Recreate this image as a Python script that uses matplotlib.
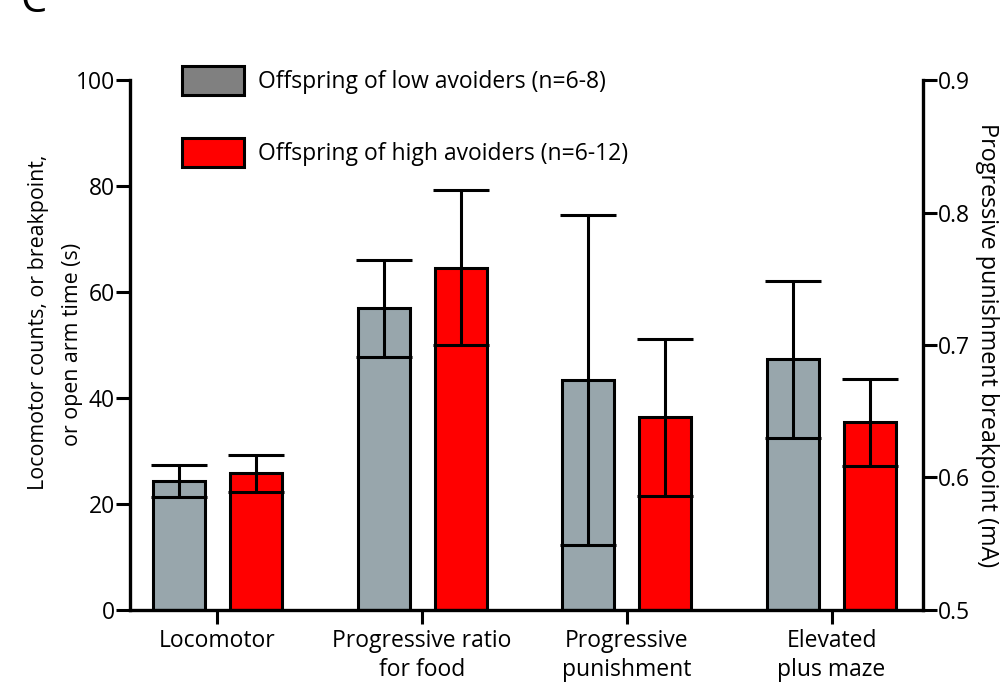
import numpy as np
import matplotlib.pyplot as plt
from matplotlib.patches import Patch

categories = ["Locomotor", "Progressive ratio\nfor food", "Progressive\npunishment", "Elevated\nplus maze"]
low_mean = [24.3, 56.9, 43.4, 47.3]
low_err = [3.0, 9.2, 31.2, 14.8]
high_mean = [25.8, 64.6, 36.4, 35.4]
high_err = [3.5, 14.6, 14.8, 8.2]
legend_labels = ["Offspring of low avoiders (n=6-8)", "Offspring of high avoiders (n=6-12)"]

plt.rcParams["font.family"] = ["Open Sans", "DejaVu Sans"]
fs = 16.5

fig = plt.figure(figsize=(10.05, 6.88), dpi=100)
ax = fig.add_axes([0.1294, 0.1134, 0.7886, 0.7703])

x = np.arange(len(categories))
off = 0.188
w = 0.254
ekw = dict(elinewidth=2.2, capthick=2.2, capsize=20, ecolor="black")
ax.bar(x - off, low_mean, w, color="#98a6ac", edgecolor="black", linewidth=2.2,
       yerr=low_err, error_kw=ekw, zorder=2)
ax.bar(x + off, high_mean, w, color="#ff0000", edgecolor="black", linewidth=2.2,
       yerr=high_err, error_kw=ekw, zorder=2)

ax.set_xlim(-0.427, 3.445)
ax.set_ylim(0, 100)
ax.set_yticks([0, 20, 40, 60, 80, 100])
ax.set_xticks(x)
ax.set_xticklabels(categories, fontsize=fs, linespacing=1.25)
for s in ["top", "right"]:
    ax.spines[s].set_visible(False)
for s in ["left", "bottom"]:
    ax.spines[s].set_linewidth(2.4)
ax.tick_params(axis="both", width=2.2, length=10, labelsize=fs)
ax.tick_params(axis="y", pad=1)
ax.tick_params(axis="x", pad=4)

# left axis title, two lines placed separately like the original
ax.text(-0.115, 0.543, "Locomotor counts, or breakpoint,", rotation=90, fontsize=15.4,
        ha="center", va="center", transform=ax.transAxes)
ax.text(-0.073, 0.502, "or open arm time (s)", rotation=90, fontsize=15.4,
        ha="center", va="center", transform=ax.transAxes)

ax2 = ax.twinx()
ax2.set_ylim(0.5, 0.9)
ax2.set_yticks([0.5, 0.6, 0.7, 0.8, 0.9])
ax2.set_yticklabels(["0.5", "0.6", "0.7", "0.8", "0.9"])
for s in ["top", "left", "bottom"]:
    ax2.spines[s].set_visible(False)
ax2.spines["right"].set_linewidth(2.4)
ax2.tick_params(axis="y", width=2.2, length=10, labelsize=fs, pad=1)
ax2.set_ylabel("Progressive punishment breakpoint (mA)", rotation=270, fontsize=16.8, labelpad=21)

handles = [Patch(facecolor="#808080", edgecolor="black", linewidth=2.2),
           Patch(facecolor="#ff0000", edgecolor="black", linewidth=2.2)]
ax.legend(handles, legend_labels, loc="upper left", bbox_to_anchor=(0.0394, 1.066),
          frameon=False, fontsize=fs, handlelength=2.7, handleheight=1.6,
          labelspacing=1.85, handletextpad=0.6)

fig.text(0.02, 0.983, "C", fontsize=30, va="baseline", ha="left")

fig.savefig("out.png", dpi=100)
